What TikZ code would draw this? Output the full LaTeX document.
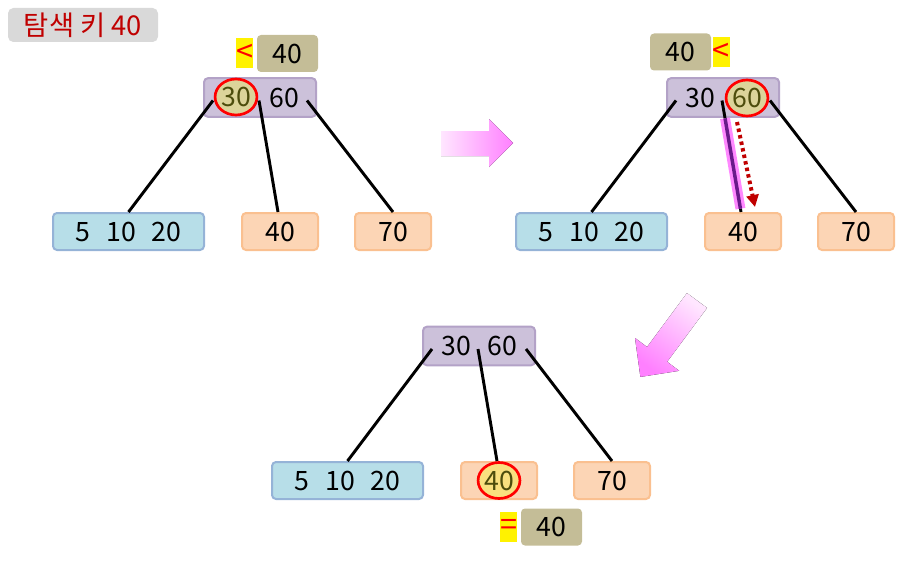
\documentclass[tikz,border=0pt]{standalone}
\usepackage{fontspec}
\setmainfont{Noto Sans CJK KR}
\usepackage{tikz}
\usetikzlibrary{arrows.meta,positioning,shapes.geometric,calc}
\definecolor{rootfill}{HTML}{CCC1DA}
\definecolor{rootline}{HTML}{B3A2C7}
\definecolor{bluefill}{HTML}{B7DEE8}
\definecolor{blueline}{HTML}{95B3D7}
\definecolor{orfill}{HTML}{FCD5B5}
\definecolor{orline}{HTML}{FAC090}
\definecolor{tan}{HTML}{C4BD97}
\definecolor{khaki}{HTML}{DCD49A}
\definecolor{hityel}{HTML}{F9E07F}
\definecolor{olivetxt}{HTML}{4D4D0D}
\definecolor{titlegray}{HTML}{D9D9D9}
\definecolor{titlered}{HTML}{C00000}
\definecolor{pinkhl}{HTML}{FF88FF}
\definecolor{purphl}{HTML}{6A1A8A}
\definecolor{arrlight}{HTML}{FFE6FF}
\definecolor{arrdark}{HTML}{FF80FF}
\newcommand{\keyfont}{\fontsize{20}{24}\selectfont}
\tikzset{
  rootbox/.style={draw=rootline,fill=rootfill,rounded corners=3pt,line width=1.5pt,minimum width=84pt,minimum height=29pt},
  leafb/.style={draw=blueline,fill=bluefill,rounded corners=3pt,line width=1.5pt,minimum height=27.75pt,font=\keyfont},
  leafo/.style={draw=orline,fill=orfill,rounded corners=3pt,line width=1.5pt,minimum width=57pt,minimum height=27.75pt,font=\keyfont},
  keyt/.style={inner sep=0pt,font=\keyfont},
  keyc/.style={ellipse,draw=red,line width=2pt,fill=khaki,text=olivetxt,inner sep=0pt,minimum width=31pt,minimum height=27pt,font=\keyfont},
  cmp/.style={fill=tan,rounded corners=3pt,minimum width=45.75pt,minimum height=27.75pt,inner sep=0pt,font=\keyfont},
  op/.style={fill=yellow,text=red,minimum width=12.75pt,minimum height=22.5pt,inner sep=0pt,font=\fontsize{23}{26}\selectfont},
  edge/.style={line width=2.2pt,black},
  titlebox/.style={fill=titlegray,rounded corners=4pt,minimum width=112.5pt,minimum height=25.5pt,text=titlered,font=\fontsize{20.5}{24}\selectfont},
}
\begin{document}
\begin{tikzpicture}[x=0.75pt,y=-0.75pt]
\useasboundingbox (0,0) rectangle (909,567);
\node[titlebox] (title) at (83,25) {탐색 키 40};
% step 1: compare with 30
\node[rootbox] (ra) at (260,97.5) {};
\node[keyc] (k30a) at (236,97) {30};
\node[keyt] (k60a) at (284,97.5) {60};
\node[leafb,minimum width=113.25pt] (l1a) at (128.5,231.5) {5\hspace{0.6em}10\hspace{0.6em}20};
\node[leafo] (l2a) at (280,231.5) {40};
\node[leafo] (l3a) at (393,231.5) {70};
\node[cmp] (ca) at (287.5,53.5) {40};
\node[op,left=2.25pt of ca] (oa) {<};
% step 2: compare with 60, go down
\node[rootbox] (rb) at (723,97.5) {};
\node[keyt] (k30b) at (700,97.5) {30};
\node[keyc] (k60b) at (747,98) {60};
\node[leafb,minimum width=113.25pt] (l1b) at (591.5,231.5) {5\hspace{0.6em}10\hspace{0.6em}20};
\node[leafo] (l2b) at (743,231.5) {40};
\node[leafo] (l3b) at (856,231.5) {70};
\node[cmp] (cb) at (680.5,52) {40};
\node[op,right=1pt of cb] (ob) {<};
% step 3: found in leaf
\node[rootbox] (rc) at (479,346) {};
\node[keyt] (k30c) at (456,346) {30};
\node[keyt] (k60c) at (502,346) {60};
\node[leafb,minimum width=113.25pt] (l1c) at (347.5,480.5) {5\hspace{0.6em}10\hspace{0.6em}20};
\node[leafo] (l2c) at (499,480.5) {};
\node[keyc,fill=hityel] (k40c) at (l2c) {40};
\node[leafo] (l3c) at (612,480.5) {70};
\node[cmp] (cc) at (551.5,527) {40};
\node[op,left=2.25pt of cc] (oc) {=};
% tree edges
\foreach \p in {a,b,c} {
  \draw[edge] ($(r\p)+(-47,3)$) -- (l1\p.north);
  \draw[edge] ($(r\p)+(-1,3)$) -- ($(l2\p.north)+(-2,0)$);
  \draw[edge] ($(r\p)+(47,3)$) -- (l3\p.north);
}
% path taken in step 2
\coordinate (hs) at ($(rb)+(-1,3)$);
\coordinate (he) at ($(l2b.north)+(-2,0)$);
\draw[pinkhl,line width=7.5pt,xshift=2.25pt] ($(hs)!0.16!(he)$) -- ($(hs)!0.97!(he)$);
\draw[purphl,line width=2.6pt,xshift=2.6pt] ($(hs)!0.16!(he)$) -- ($(hs)!0.97!(he)$);
\coordinate (dotA) at ($(k60b)+(-10,24)$);
\coordinate (dotB) at ($(l2b.north)+(12,-5)$);
\draw[titlered,line width=3pt,dash pattern=on 2.6pt off 2.4pt,-{Triangle[length=9pt,width=9pt]}] (dotA) -- (dotB);
% block arrows between steps
\fill[left color=arrlight,right color=arrdark] (441,131) -- (489,131) -- (489,119) -- (513,143) -- (489,167) -- (489,156) -- (441,156) -- cycle;
\fill[top color=arrlight,bottom color=arrdark,shading angle=-36.5] (686.95,293.1) -- (707.05,307.9) -- (667.15,361.8) -- (679.2,370.8) -- (640.4,376.9) -- (635,338) -- (647.05,347) -- cycle;
\end{tikzpicture}
\end{document}
